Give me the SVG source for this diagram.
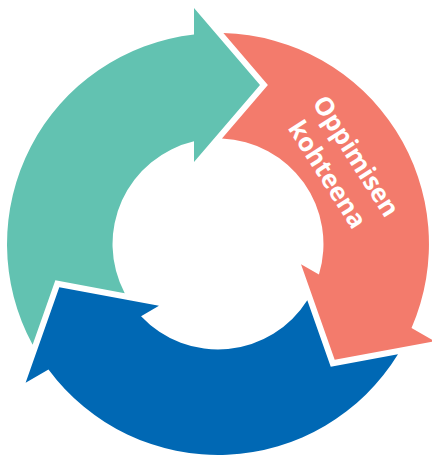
<svg xmlns="http://www.w3.org/2000/svg" width="432" height="456" viewBox="0 0 432 456">
  <defs>
    <path id="arrowShape" d="M194,8 L260,85 L194,162 L194,141.3 A105.5,105.5 0 0 0 124.72,293.26 L55.36,280.29 L32.64,344.8 A211,211 0 0 1 194,34.4 Z"/>
  </defs>
  <style>
    .lbl { font-family: "Open Sans", "Noto Sans", "DejaVu Sans", sans-serif; font-weight: 700; font-size: 25.5px; fill: #ffffff; text-anchor: middle; }
  </style>
  <rect width="432" height="456" fill="#ffffff"/>
  <g id="connectors"></g>
  <g id="node-teal">
    <use href="#arrowShape" fill="#62C2B1"/>
  </g>
  <g id="node-salmon">
    <use href="#arrowShape" fill="#F37B6C" transform="rotate(120 218 244)"/>
    <g transform="translate(334.3 170) rotate(57.5)">
      <text class="lbl" x="0" y="-17">Oppimisen</text>
      <text class="lbl" x="0" y="17">kohteena</text>
    </g>
  </g>
  <g id="node-blue">
    <use href="#arrowShape" fill="#0068B4" transform="rotate(240 218 244)"/>
  </g>
</svg>
